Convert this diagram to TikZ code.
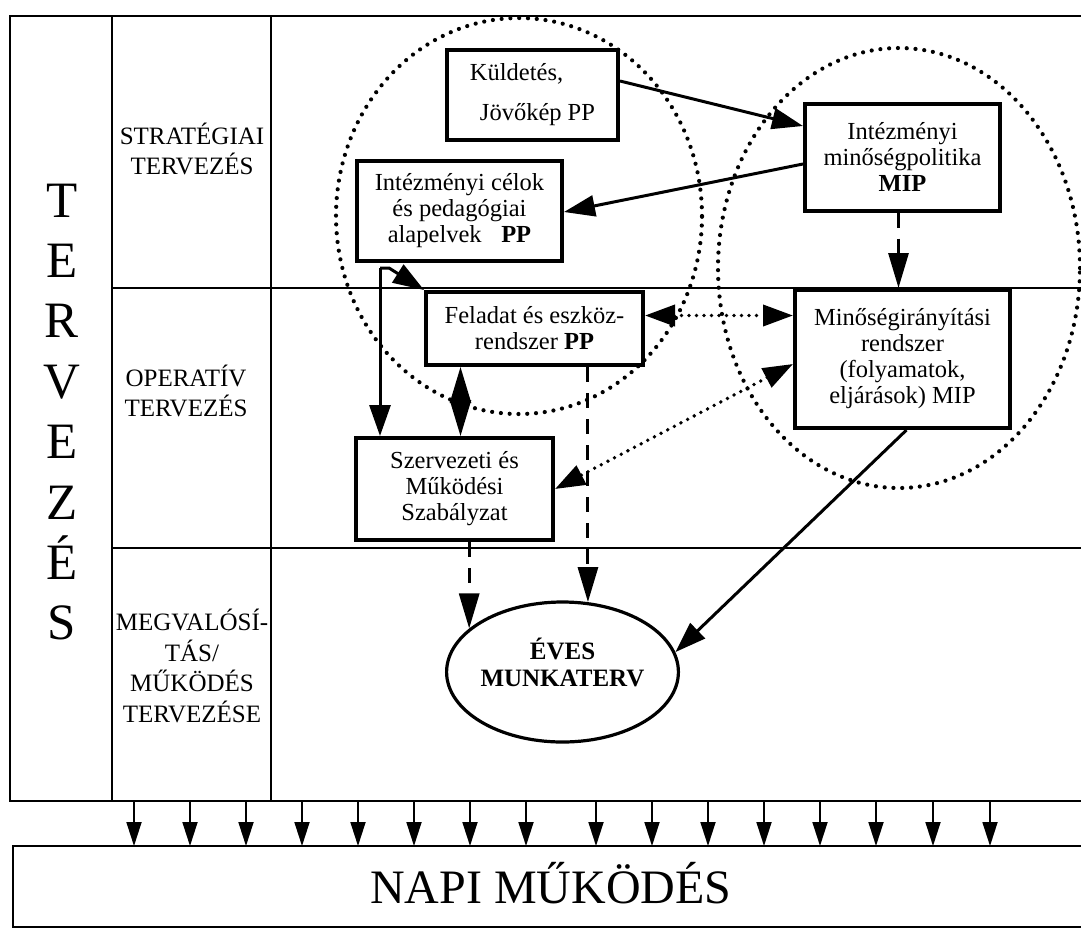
\documentclass[tikz,border=0pt]{standalone}
\usepackage{fontspec}
\setmainfont{Liberation Serif}
\usetikzlibrary{arrows.meta,shapes.geometric}
\begin{document}
\begin{tikzpicture}[x=1pt,y=-1pt,
  frame/.style={line width=1.8pt},
  box/.style={draw, line width=4pt, rectangle, inner sep=0pt, align=center, font=\fontsize{24.5}{26}\selectfont},
  lbl/.style={align=center, font=\fontsize{25}{30.5}\selectfont},
  bigletter/.style={anchor=base, font=\fontsize{51}{51}\selectfont},
  arr/.style={line width=3pt, -{Triangle[length=31pt,width=21pt]}},
  dasharr/.style={line width=3pt, dash pattern=on 15pt off 11pt, -{Triangle[length=35pt,width=20pt]}},
  dotarr/.style={line width=3.8pt, line cap=round, dash pattern=on 0pt off 7.5pt, {Triangle[length=30pt,width=21pt]}-{Triangle[length=30pt,width=21pt]}},
  dotcirc/.style={line width=4.2pt, line cap=round, dash pattern=on 0pt off 8.8pt},
  diam/.style={line width=2.4pt, {Triangle[length=36pt,width=21pt]}-{Triangle[length=36pt,width=21pt]}},
  smallarr/.style={line width=1.8pt, -{Triangle[length=24pt,width=15pt]}},
]
\useasboundingbox (0,0) rectangle (1081,930);

% main frame
\draw[frame] (1081,16) -- (10,16) -- (10,801) -- (1081,801);
\draw[frame] (112,16) -- (112,801);
\draw[frame] (271,16) -- (271,801);
\draw[frame] (112,288) -- (1081,288);
\draw[frame] (112,548) -- (1081,548);
% bottom band
\draw[frame] (1081,846) -- (13,846) -- (13,927) -- (1081,927);

% vertical TERVEZES
\foreach \l [count=\i from 0] in {T,E,R,V,E,Z,É,S}
  \node[bigletter] (tv\i) at (62,{217+60.4*\i}) {\l};

% column labels
\node[lbl] (strat) at (192,149) {STRATÉGIAI\\TERVEZÉS};
\node[lbl] (oper) at (186,391) {OPERATÍV\\TERVEZÉS};
\node[lbl] (megv) at (192,666) {MEGVALÓSÍ-\\TÁS/\\MŰKÖDÉS\\TERVEZÉSE};

% dotted circles
\draw[dotcirc] (519,216) ellipse [x radius=183pt, y radius=198pt];
\draw[dotcirc] (899,268) ellipse [x radius=181pt, y radius=220pt];

% boxes
\node[box, align=left, minimum width=171pt, minimum height=90pt] (kuld) at (532.5,95) {Küldetés,\\[14pt]\hspace*{10pt}Jövőkép PP};
\node[box, minimum width=205pt, minimum height=100pt] (celok) at (459.5,211) {Intézményi célok\\és pedagógiai\\alapelvek\hspace{0.8em}\textbf{PP}};
\node[box, minimum width=195pt, minimum height=107pt] (mip) at (902.5,157) {Intézményi\\minőségpolitika\\\textbf{MIP}};
\node[box, minimum width=217pt, minimum height=73pt] (fel) at (534.5,328.5) {Feladat és eszköz-\\rendszer \textbf{PP}};
\node[box, minimum width=215pt, minimum height=138pt] (min) at (902.5,359) {Minőségirányítási\\rendszer\\(folyamatok,\\eljárások) MIP};
\node[box, minimum width=197pt, minimum height=102pt] (szerv) at (454.5,489) {Szervezeti és\\Működési\\Szabályzat};
\node[draw, ellipse, line width=3.2pt, inner sep=0pt, minimum width=229pt, minimum height=140pt, align=center, text depth=20pt, font=\bfseries\fontsize{25}{27}\selectfont] (eves) at (562.5,672) {ÉVES\\MUNKATERV};

% connectors
\draw[arr] ([yshift=14pt]kuld.east) -- ([yshift=31pt]mip.west);
\draw[arr] ([yshift=-7pt]mip.west) -- ([yshift=-1pt]celok.east);
\draw[dasharr] ([xshift=-4pt]mip.south) -- ([xshift=-4pt]min.north);
\coordinate (fork) at (380,268);
\draw[arr] (fork) -- ([xshift=9pt]fork) -- (fel.north west);
\draw[arr] (fork) -- (fork |- szerv.north);
\draw[diam] ([xshift=-74pt]fel.south) -- ([xshift=-74pt]fel.south |- szerv.north);
\draw[dasharr] (eves.70.7 |- fel.south) -- (eves.70.7);
\draw[dasharr] (eves.155.5 |- szerv.south) -- (eves.155.5);
\draw[dotarr] ([yshift=13pt]fel.east) -- ([yshift=13pt]fel.east -| min.west);
\draw[dotarr] ([yshift=-5pt]min.west) -- (szerv.east);
\draw[arr] ([xshift=4pt]min.south) -- (eves.10);

% arrows to daily operation
\foreach \x [count=\i] in {134,190,246,302,358,414,470,526,596,652,708,764,820,876,933,990} {
  \coordinate (s\i) at (\x,801);
  \coordinate (t\i) at (\x,846);
  \draw[smallarr] (s\i) -- (t\i);
}

\node[anchor=base, font=\fontsize{48}{48}\selectfont] (napi) at (551,903) {NAPI MŰKÖDÉS};
\end{tikzpicture}
\end{document}
